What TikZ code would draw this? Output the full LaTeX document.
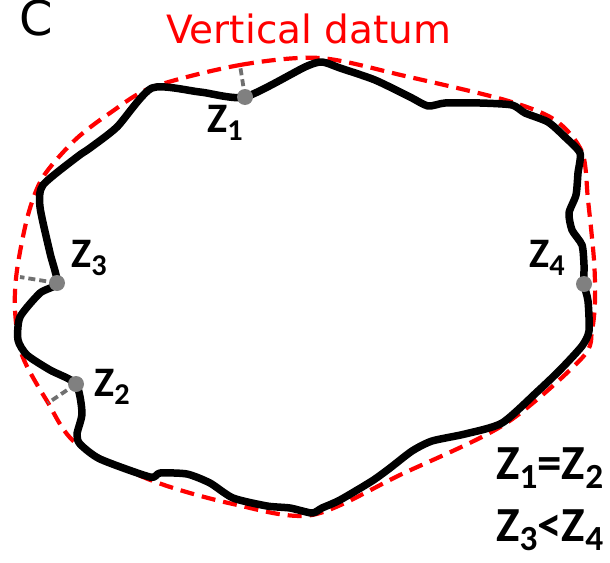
\documentclass[tikz,border=0pt]{standalone}
\usepackage{fontspec}
\usepackage{graphicx}
\setmainfont{Carlito}
\newfontfamily\dvfont{DejaVu Sans}
\definecolor{dotgray}{HTML}{808080}
\definecolor{offgray}{HTML}{707070}
\definecolor{datumred}{HTML}{FF0000}
\newcommand{\zsub}[1]{\raisebox{-0.2em}{\scalebox{0.72}{#1}}}
\begin{document}
\begin{tikzpicture}[x=1pt,y=-1pt,
  outline/.style={line width=7.5pt, line join=round, line cap=round},
  datum/.style={datumred, line width=4.2pt, dash pattern=on 14pt off 8pt},
  offset/.style={offgray, line width=3.8pt, dash pattern=on 7pt off 4pt},
  zdot/.style={circle, fill=dotgray, inner sep=0pt, minimum size=16pt},
  zlab/.style={font=\fontsize{42}{50}\selectfont\bfseries, anchor=base west, inner sep=0pt},
  eqlab/.style={font=\fontsize{49}{58}\selectfont\bfseries, anchor=base west, inner sep=0pt}]
\useasboundingbox (0,0) rectangle (610,562);
% vertical datum (dashed envelope)
\draw[datum] plot[smooth cycle, tension=0.5] coordinates {
  (153,87) (240,65) (320,58) (405,76) (505,100) (555,120) (582,152)
  (588,200) (594,260) (595,300) (592,330) (582,358) (505,424) (402,474)
  (312,515) (233,504) (153,481) (77,444) (47,401) (22,355) (15,310)
  (17,270) (28,215) (43,177) (75,140) (110,113)};
% outline
\draw[outline] plot[smooth cycle, tension=0.4] coordinates {
  (152,88) (200,92) (245,97) (305,67) (322,62) (340,68) (375,80) (410,97)
  (428,106) (445,103) (480,103) (512,105) (525,113) (548,122) (565,137)
  (580,153) (578,173) (576,195) (569,213) (572,230) (582,245) (584,265)
  (584,284) (588,301) (589,331) (582,346) (560,370) (538,391) (502,423)
  (465,434) (432,441) (412,451) (390,468) (372,481) (340,500) (322,508)
  (312,513) (290,508) (267,506) (233,498) (210,483) (187,474) (160,473)
  (150,477) (100,459) (80,444) (77,434) (82,413) (76,384) (50,370)
  (27,355) (18,340) (20,317) (40,293) (57,283) (50,253) (40,207)
  (43,185) (77,157) (90,148) (117,127)};
% points
\coordinate (d1) at (240,65);
\coordinate (d3) at (20,277);
\coordinate (d2) at (48,403);
\draw[offset] (245,97) -- (d1);
\draw[offset] (57,283) -- (d3);
\draw[offset] (76,384) -- (d2);
\node[zdot] (z1) at (245,97) {};
\node[zdot] (z3) at (57,283) {};
\node[zdot] (z2) at (76,384) {};
\node[zdot] (z4) at (584,284) {};
% labels
\node[zlab] (l1) at (207,132) {Z\zsub{1}};
\node[zlab] (l3) at (71,267) {Z\zsub{3}};
\node[zlab] (l2) at (94,396) {Z\zsub{2}};
\node[zlab] (l4) at (529,267) {Z\zsub{4}};
\node[eqlab] (e1) at (496,479) {Z\zsub{1}=Z\zsub{2}};
\node[eqlab] (e2) at (496,541) {Z\zsub{3}<Z\zsub{4}};
\node[font=\dvfont\fontsize{48}{56}\selectfont, anchor=base west, inner sep=0pt] (c) at (19,35) {C};
\node[font=\dvfont\fontsize{39}{46}\selectfont, text=datumred, anchor=base west, inner sep=0pt] (vd) at (166,43) {Vertical datum};
\end{tikzpicture}
\end{document}
